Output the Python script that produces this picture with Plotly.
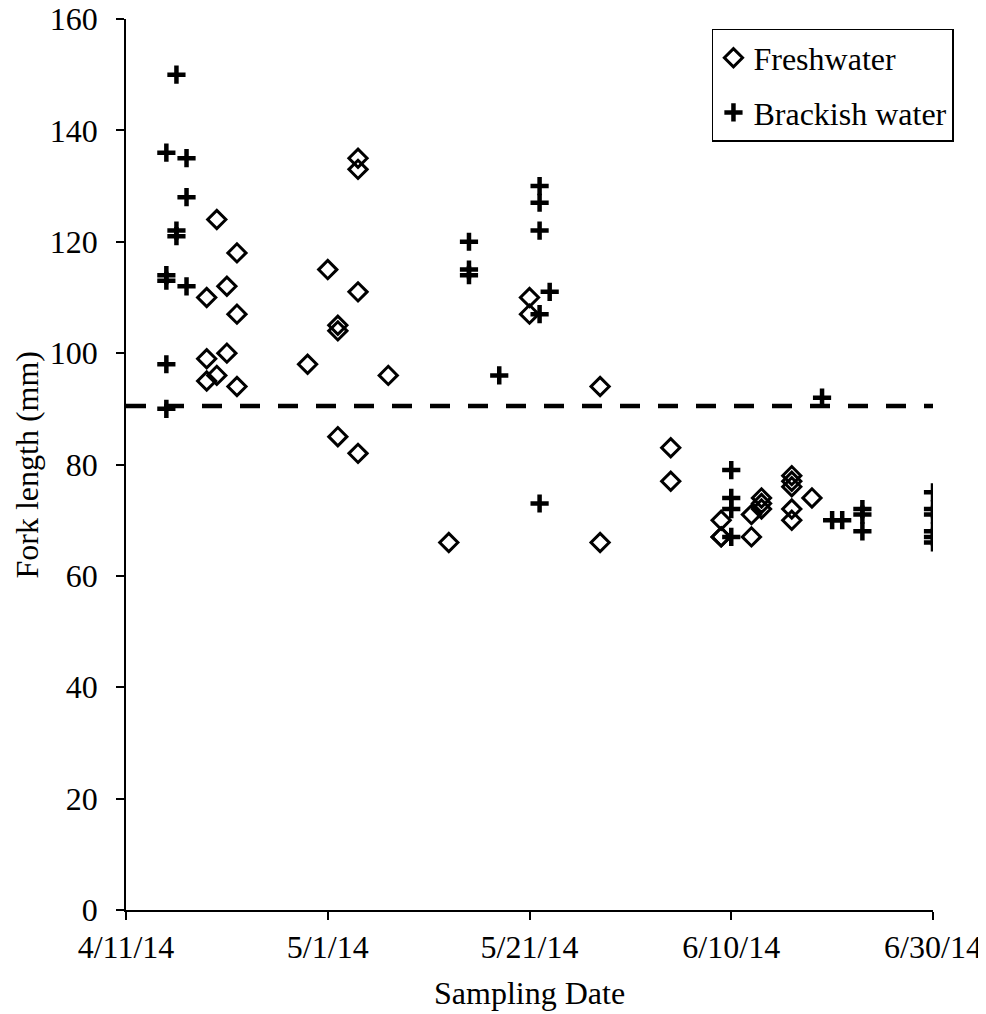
import plotly.graph_objects as go

# ---- data ----
fresh_dates = [
    "2014-04-19", "2014-04-19", "2014-04-19",
    "2014-04-20", "2014-04-20",
    "2014-04-21", "2014-04-21",
    "2014-04-22", "2014-04-22", "2014-04-22",
    "2014-04-29",
    "2014-05-01",
    "2014-05-02", "2014-05-02", "2014-05-02",
    "2014-05-04", "2014-05-04", "2014-05-04", "2014-05-04",
    "2014-05-07",
    "2014-05-13",
    "2014-05-21", "2014-05-21",
    "2014-05-28", "2014-05-28",
    "2014-06-04", "2014-06-04",
    "2014-06-09", "2014-06-09", "2014-06-09",
    "2014-06-12", "2014-06-12",
    "2014-06-13", "2014-06-13", "2014-06-13",
    "2014-06-16", "2014-06-16", "2014-06-16", "2014-06-16", "2014-06-16",
    "2014-06-18",
]
fresh_lengths = [
    110, 99, 95,
    124, 96,
    112, 100,
    118, 107, 94,
    98,
    115,
    105, 104, 85,
    135, 133, 111, 82,
    96,
    66,
    110, 107,
    94, 66,
    83, 77,
    70, 67, 67,
    71, 67,
    74, 73, 72,
    78, 77, 76, 72, 70,
    74,
]

brackish_dates = [
    "2014-04-15", "2014-04-15", "2014-04-15", "2014-04-15", "2014-04-15",
    "2014-04-16", "2014-04-16", "2014-04-16",
    "2014-04-17", "2014-04-17", "2014-04-17",
    "2014-05-15", "2014-05-15", "2014-05-15",
    "2014-05-18",
    "2014-05-22", "2014-05-22", "2014-05-22", "2014-05-22", "2014-05-22",
    "2014-05-23",
    "2014-06-10", "2014-06-10", "2014-06-10", "2014-06-10",
    "2014-06-19",
    "2014-06-20",
    "2014-06-21",
    "2014-06-23", "2014-06-23", "2014-06-23",
    "2014-06-30", "2014-06-30", "2014-06-30", "2014-06-30", "2014-06-30", "2014-06-30",
]
brackish_lengths = [
    136, 114, 113, 98, 90,
    150, 122, 121,
    135, 128, 112,
    120, 115, 114,
    96,
    130, 127, 122, 107, 73,
    111,
    79, 74, 72, 67,
    92,
    70,
    70,
    72, 71, 68,
    75, 72, 71, 68, 67, 66,
]

threshold_length = 90.5

x_tick_vals = ["2014-04-11", "2014-05-01", "2014-05-21", "2014-06-10", "2014-06-30"]
x_tick_text = ["4/11/14", "5/1/14", "5/21/14", "6/10/14", "6/30/14"]
y_tick_vals = [0, 20, 40, 60, 80, 100, 120, 140, 160]

x_title = "Sampling Date"
y_title = "Fork length (mm)"

FONT = "Liberation Serif, Times New Roman, serif"
FS = 32

fig = go.Figure()

fig.add_trace(go.Scatter(
    x=fresh_dates, y=fresh_lengths, mode="markers", name="Freshwater",
    legendgroup="a",
    marker=dict(symbol="diamond-open", size=14, color="black",
                line=dict(width=3, color="black")),
))
fig.add_trace(go.Scatter(
    x=brackish_dates, y=brackish_lengths, mode="markers", name="Brackish water",
    legendgroup="b",
    marker=dict(symbol="cross-thin-open", size=13, color="black",
                line=dict(width=4.5, color="black")),
))

# dashed threshold line across the date range
fig.add_trace(go.Scatter(
    x=[x_tick_vals[0], x_tick_vals[-1]], y=[threshold_length, threshold_length],
    mode="lines", showlegend=False, hoverinfo="skip",
    line=dict(color="black", width=4.5, dash="20px,18px"),
))

# page body has an 8px margin, so the figure is 8px smaller than the window
fig.update_layout(
    width=978, height=1006,
    margin=dict(l=118, r=53, t=11, b=104),
    paper_bgcolor="white", plot_bgcolor="white",
    font=dict(family=FONT, size=FS, color="black"),
    showlegend=True,
    legend=dict(
        x=0.7261, y=0.9888, xanchor="left", yanchor="top",
        bgcolor="white", bordercolor="black", borderwidth=1.5,
        font=dict(family=FONT, size=FS, color="black"),
        tracegroupgap=10, itemwidth=30,
    ),
    annotations=[
        dict(text=x_title, xref="paper", yref="paper", x=0.5, y=0,
             xanchor="center", yanchor="top", yshift=-63, showarrow=False,
             font=dict(family=FONT, size=FS, color="black")),
        dict(text=y_title, xref="paper", yref="paper", x=0, y=0.5,
             xanchor="center", yanchor="middle", xshift=-100, textangle=-90,
             showarrow=False, font=dict(family=FONT, size=FS, color="black")),
    ],
)

fig.update_xaxes(
    type="date", automargin=False,
    range=[x_tick_vals[0], x_tick_vals[-1]],
    tickmode="array", tickvals=x_tick_vals, ticktext=x_tick_text,
    showgrid=False, zeroline=False,
    showline=True, linecolor="black", linewidth=1.5,
    ticks="outside", ticklen=8, tickwidth=1.5, tickcolor="black",
    ticklabelstandoff=0, ticklabeloverflow="allow",
    fixedrange=True,
)
fig.update_yaxes(
    automargin=False,
    range=[0, 160],
    tickmode="array", tickvals=y_tick_vals,
    showgrid=False, zeroline=False,
    showline=True, linecolor="black", linewidth=1.5,
    ticks="outside", ticklen=8, tickwidth=1.5, tickcolor="black",
    ticklabelstandoff=12, ticklabeloverflow="allow",
    fixedrange=True,
)

fig.write_html("out.html")
